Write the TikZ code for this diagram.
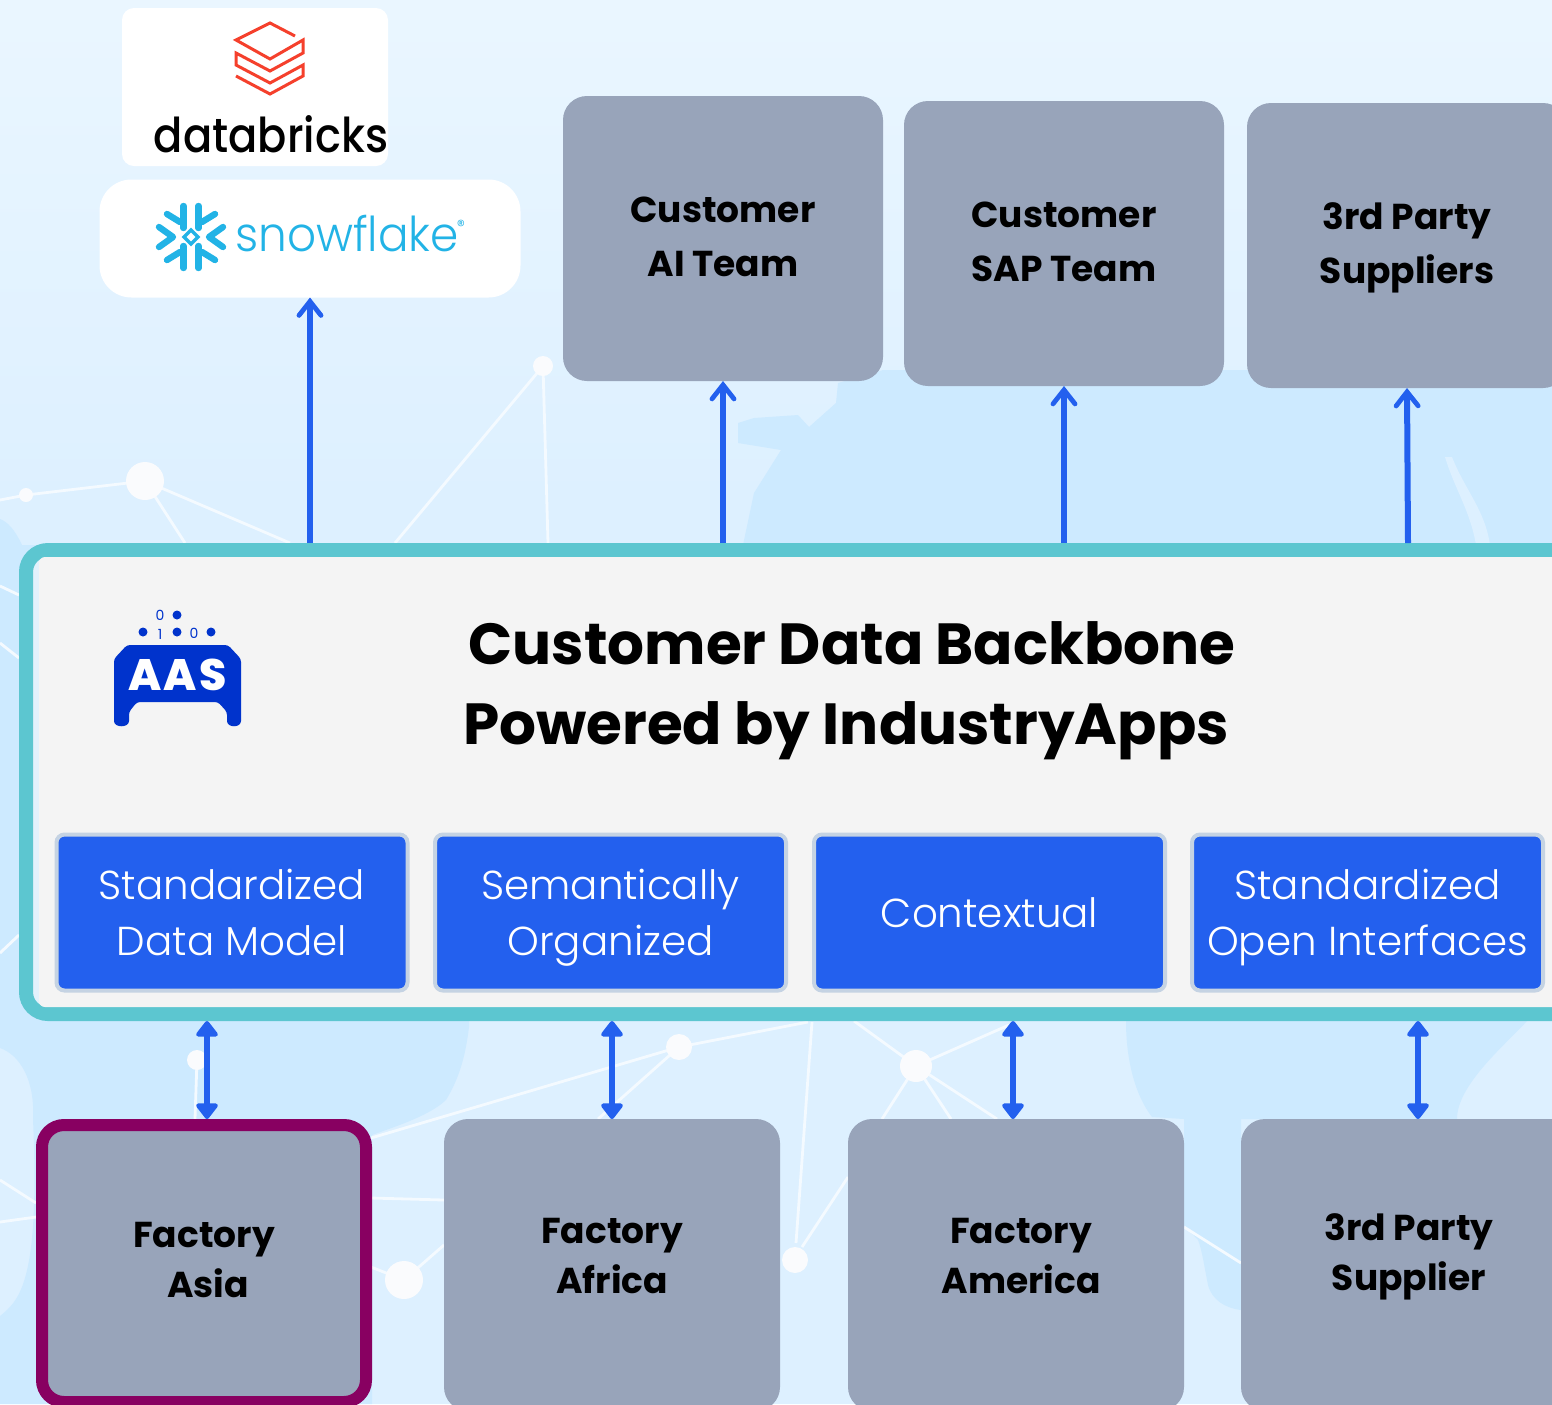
\documentclass[tikz,border=0pt]{standalone}
\usepackage{fontspec}
\setmainfont{Poppins}
\newfontfamily\plight{Poppins Light}
\newfontfamily\pmed{Poppins Medium}
\newfontfamily\pwide{Poppins ExtraBold}[LetterSpace=5]
\usetikzlibrary{arrows.meta}
\definecolor{bgtop}{HTML}{EAF6FF}
\definecolor{bgbot}{HTML}{DDF0FF}
\definecolor{blob}{HTML}{CDEAFF}
\definecolor{netw}{HTML}{F4FAFF}
\definecolor{netdotc}{HTML}{FAFBFD}
\definecolor{graybox}{HTML}{98A4BA}
\definecolor{arrowblue}{HTML}{2360EE}
\definecolor{teal}{HTML}{5CC6D0}
\definecolor{panel}{HTML}{F4F4F4}
\definecolor{sliver}{HTML}{E2F1FC}
\definecolor{plum}{HTML}{880061}
\definecolor{chipedge}{HTML}{C5D3E3}
\definecolor{aasblue}{HTML}{0033CC}
\definecolor{dbred}{HTML}{F5402C}
\definecolor{snow}{HTML}{22B3E6}
\tikzset{
  x=0.5pt,y=-0.5pt,
  graybox/.style={fill=graybox,rounded corners=12pt,minimum width=160pt,minimum height=142.5pt,inner sep=0pt,outer sep=0pt,align=center,font=\bfseries\fontsize{18}{27}\selectfont},
  factorybox/.style={graybox,minimum width=168pt,minimum height=146pt,font=\bfseries\fontsize{18}{25}\selectfont},
  lastbase/.style={text height=#1*2,text depth=0pt},
  chip/.style={fill=arrowblue,draw=chipedge,line width=2pt,rounded corners=4pt,minimum width=175.5pt,minimum height=78pt,inner sep=0pt,outer sep=0pt,align=center,text=white,font=\plight\fontsize{20.2}{28}\selectfont},
  flow/.style={draw=arrowblue,line width=3pt,-{Straight Barb[length=7pt,width=11pt,line cap=round,line width=2.4pt]}},
  flowboth/.style={draw=arrowblue,line width=3pt,{Triangle[length=8.5pt,width=12.5pt,round]}-{Triangle[length=8.5pt,width=12.5pt,round]}},
  netline/.style={draw=netw,line width=1.4pt},
  netdot/.style={fill=netdotc},
  aasdot/.style={fill=aasblue},
  sfstroke/.style={draw=snow,line width=3.2pt,line cap=round,line join=round}
}
\begin{document}
\begin{tikzpicture}
\useasboundingbox (0,0) rectangle (1552,1404);
\clip (0,0) rectangle (1552,1404);
% background
\fill[bgbot] (0,0) rectangle (1552,1404);
\shade[top color=bgtop,bottom color=bgbot] (0,0) rectangle (1552,500);
\fill[blob] (743,545) -- (754,493) -- (781,450) -- (738,443) -- (738,423) -- (754,418) -- (798,415) -- (809,427) -- (836,403) -- (838,383) -- (883,370) -- (1552,370) -- (1552,545) -- cycle;
\fill[bgbot] (1445,457) .. controls (1455,490) and (1470,510) .. (1476,545) -- (1490,545) .. controls (1485,510) and (1465,490) .. (1452,457) -- cycle;
\fill[blob] (0,519) .. controls (8,522) and (15,530) .. (22,545) -- (60,545) -- (60,1021) -- (0,1021) -- cycle;
\fill[blob] (0,1021) -- (469,1021) -- (469,1027) .. controls (465,1060) and (458,1080) .. (446,1100) .. controls (430,1115) and (400,1125) .. (372,1135) -- (372,1404) -- (0,1404) -- (0,1316) .. controls (20,1300) and (40,1280) .. (33,1119) .. controls (35,1080) and (20,1055) .. (0,1048) -- cycle;
\fill[blob] (1126,1021) -- (1527,1021) .. controls (1505,1045) and (1457,1085) .. (1457,1119) -- (1241,1119) -- (1241,1310) .. controls (1225,1308) and (1212,1300) .. (1208,1285) .. controls (1204,1265) and (1202,1250) .. (1198,1240) -- (1184,1225) -- (1184,1119) -- (1152,1117) .. controls (1135,1095) and (1126,1060) .. (1126,1021) -- cycle;
% network
\draw[netline] (0,500) -- (26,495) -- (145,481) -- (290,543) (145,481) -- (185,543);
\draw[netline] (543,366) -- (395,543) (543,366) -- (548,543);
\draw[netline] (371,1138) -- (679,1047) -- (808,1022) (598,1119) -- (679,1047);
\draw[netline] (812,1022) -- (796,1243);
\draw[netline] (854,1021) -- (916,1066) -- (1009,1025) (916,1066) -- (882,1119) (916,1066) -- (951,1119) (916,1066) -- (997,1119);
\draw[netline] (802,1247) -- (848,1177) (1184,1227) -- (1241,1263);
\draw[netline] (371,1198) -- (444,1200) (371,1267) -- (404,1280) -- (444,1245);
\draw[netline] (0,1180) -- (36,1203) (0,1222) -- (36,1217) (197,1060) -- (195,1119);
\draw[netline] (0,586) -- (19,595) (0,643) -- (19,658) (0,953) -- (19,935);
\foreach \cx/\cy/\r in {26/495/7,145/481/19,543/366/10,197/1060/10,679/1047/13,916/1066/16,404/1280/19,795/1260/13}
  \fill[netdot] (\cx,\cy) circle[radius=\r];
% logo cards
\node[fill=white,rounded corners=6pt,minimum width=133pt,minimum height=79pt,inner sep=0pt,outer sep=0pt] (dbcard) at (255,87) {};
\node[fill=white,rounded corners=16pt,minimum width=210.5pt,minimum height=59pt,inner sep=0pt,outer sep=0pt] (sfcard) at (310,238.5) {};
\draw[dbred,line width=1.5pt,line join=miter] (295,36) -- (270,23) -- (236,40) -- (270,59) -- (303,40) -- (303,53) -- (270,71) -- (236,53) -- (236,65) -- (270,83) -- (303,65) -- (303,76) -- (270,94) -- (236,76);
\node[anchor=base,inner sep=0pt,transform shape,xscale=0.9,font=\pmed\fontsize{24}{24}\selectfont,text=black] (dbtext) at (271,152) {databricks};
\node[anchor=base,inner sep=0pt,transform shape,xscale=0.945,font=\plight\fontsize{24}{24}\selectfont,text=snow] (sftext) at (347,251) {snowflake};
\node[inner sep=0pt,font=\fontsize{8}{8}\selectfont,text=snow] (sfreg) at (461,226) {®};
\begin{scope}[shift={(191,237)}]
  \foreach \sx in {1,-1}{
    \draw[sfstroke] (\sx*7.5,-31) -- (\sx*7.5,-9);
    \draw[sfstroke] (\sx*7.5,31) -- (\sx*7.5,9);
    \draw[sfstroke] (\sx*24,-23) -- (\sx*11,-15);
    \draw[sfstroke] (\sx*24,23) -- (\sx*11,15);
    \draw[sfstroke] (\sx*32,-10) -- (\sx*18,0) -- (\sx*32,10);
  }
  \draw[snow,line width=1.6pt] (0,-7) -- (7,0) -- (0,7) -- (-7,0) -- cycle;
\end{scope}
% top boxes
\node[graybox,lastbase=19pt] (ai) at (723,238.5) {Customer\\AI Team};
\node[graybox,lastbase=19pt] (sap) at (1064,243.5) {Customer\\SAP Team};
\node[graybox,lastbase=19pt] (sup) at (1407,245.5) {3rd Party\\Suppliers};
% backbone
\node[draw=teal,fill=sliver,line width=7pt,rounded corners=11pt,minimum width=800pt,minimum height=232pt,inner sep=0pt,outer sep=3.5pt] (bb) at (826,782) {};
\node[fill=panel,rounded corners=3pt,minimum width=770pt,minimum height=225pt,inner sep=0pt,outer sep=0pt] (pnl) at (809,782) {};
\node[anchor=base,inner sep=0pt,font=\bfseries\fontsize{29}{40}\selectfont,align=center,text=black] (title) at (846,744) {\hspace*{6pt}Customer Data Backbone\\Powered by IndustryApps};
% AAS icon
\fill[aasblue,rounded corners=1.5pt] (127,645) -- (228,645) -- (241,659) -- (241,718) .. controls (241,728) and (227,728) .. (227,718) -- (227,712) -- (218,702) -- (137,702) -- (129,712) -- (129,718) .. controls (129,728) and (114,728) .. (114,718) -- (114,659) -- cycle;
\node[inner sep=0pt,text=white,font=\pwide\fontsize{22}{22}\selectfont] (aas) at (177.5,675) {AAS};
\foreach \cx/\cy in {177/615,143/632,177/632,211/632}
  \fill[aasdot] (\cx,\cy) circle[radius=4.5];
\node[inner sep=0pt,text=aasblue,font=\fontsize{7}{7}\selectfont] (b0a) at (160,615) {0};
\node[inner sep=0pt,text=aasblue,font=\fontsize{7}{7}\selectfont] (b1) at (160,634) {1};
\node[inner sep=0pt,text=aasblue,font=\fontsize{7}{7}\selectfont] (b0b) at (194,633) {0};
% chips
\node[chip,lastbase=21.5pt] (c1) at (232,912.5) {Standardized\\Data Model};
\node[chip,lastbase=21.5pt] (c2) at (610.5,912.5) {Semantically\\Organized};
\node[chip] (c3) at (989.5,912.5) {Contextual};
\node[chip,lastbase=21.5pt] (c4) at (1367.5,912.5) {Standardized\\Open Interfaces};
% factories
\node[factorybox,lastbase=14pt] (f2) at (612,1265) {Factory\\Africa};
\node[factorybox,lastbase=14pt] (f3) at (1016,1265) {\hspace*{5pt}Factory\\\hspace*{5pt}America};
\node[factorybox,lastbase=12.5pt] (f4) at (1409,1265) {3rd Party\\Supplier};
\node[factorybox,draw=plum,line width=6pt,minimum width=162pt,minimum height=138.5pt,rounded corners=11pt,lastbase=16.75pt,outer sep=3pt] (f1) at (204,1263.5) {Factory\\\hspace*{4pt}Asia};
% connector ends
\coordinate (u0) at (bb.north -| sfcard.south);
\coordinate (u1) at (bb.north -| ai.south);
\coordinate (u2) at (bb.north -| sap.south);
\coordinate (u3) at (1408,543);
\coordinate (d1a) at (207,1021);
\coordinate (d1b) at (207,1119);
\coordinate (d2a) at (612,1021);
\coordinate (d2b) at (612,1119);
\coordinate (d3a) at (1013,1021);
\coordinate (d3b) at (1013,1119);
\coordinate (d4a) at (1418,1021);
\coordinate (d4b) at (1418,1119);
\draw[flow] (u0) -- (sfcard.south);
\draw[flow] (u1) -- (ai.south);
\draw[flow] (u2) -- (sap.south);
\draw[flow] (u3) -- (sup.south);
\draw[flowboth] (d1a) -- (d1b);
\draw[flowboth] (d2a) -- (d2b);
\draw[flowboth] (d3a) -- (d3b);
\draw[flowboth] (d4a) -- (d4b);
\end{tikzpicture}
\end{document}
